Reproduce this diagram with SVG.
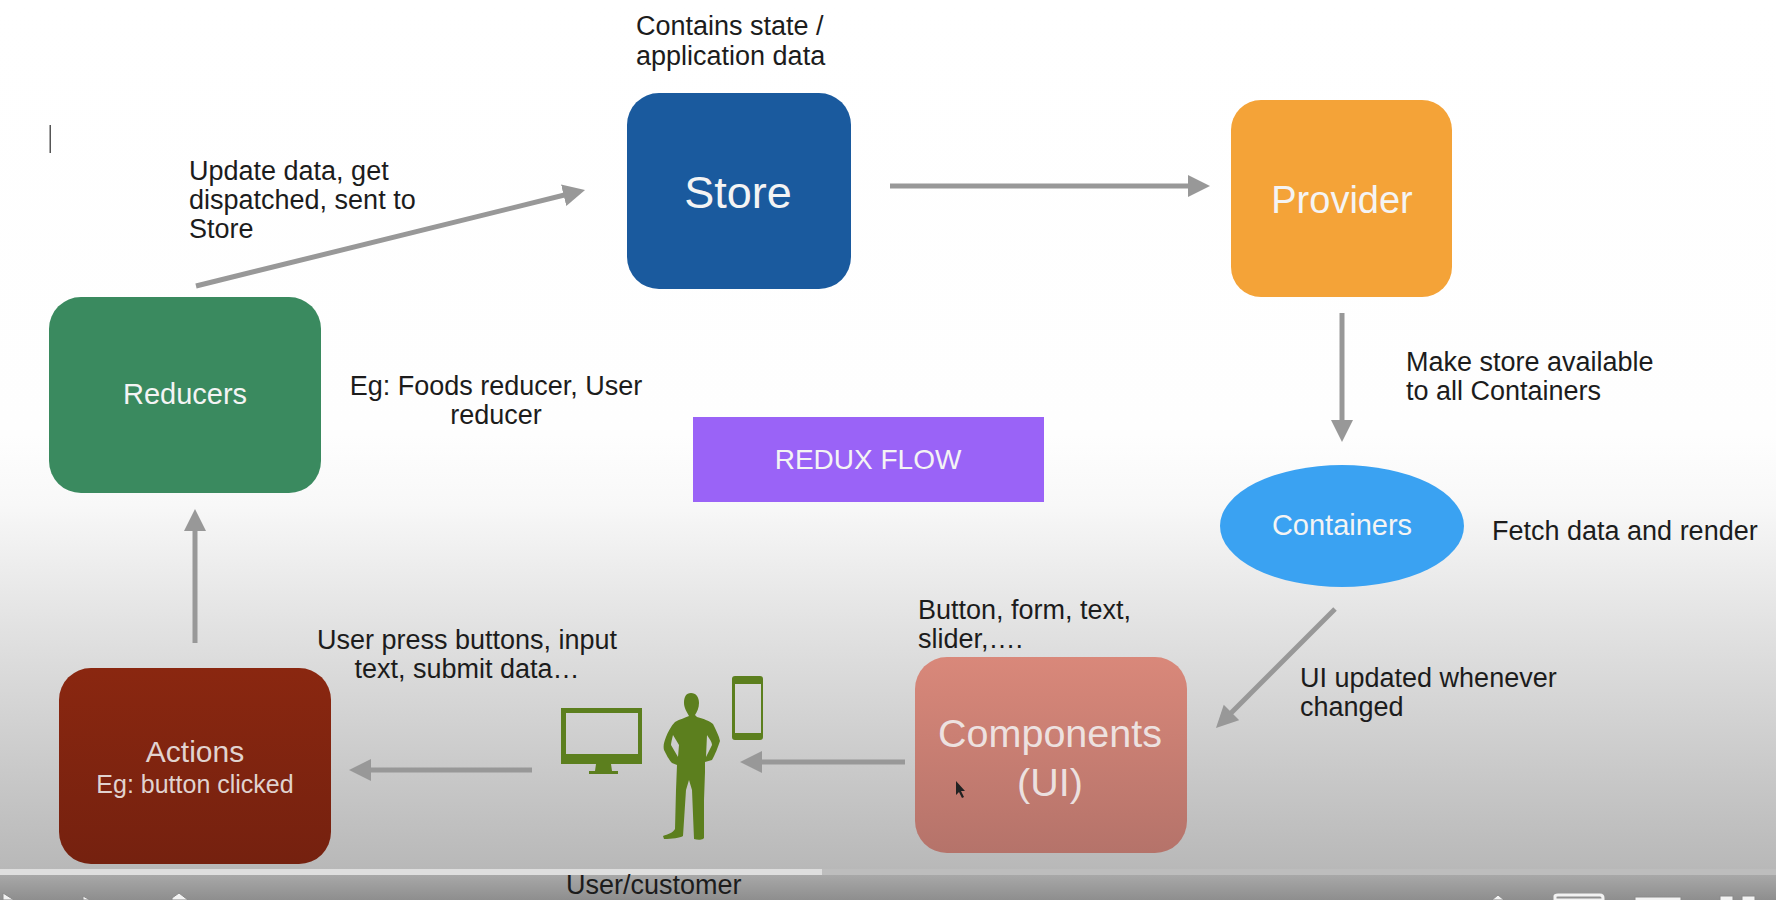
<svg xmlns="http://www.w3.org/2000/svg" width="1776" height="900" viewBox="0 0 1776 900">
<style>
.t{font-family:"Liberation Sans",Arial,sans-serif;font-size:27px;fill:#1c1c1c}
.n{font-family:"Liberation Sans",Arial,sans-serif;fill:#f4f4f4;text-anchor:middle}
.c{text-anchor:middle}
.a{stroke:#989898;stroke-width:5;fill:none;marker-end:url(#h)}
.g{fill:#5c7f1e}
.i{fill:#f2f2f2;stroke:#8a8a8a;stroke-width:1}
</style>
<defs>
<linearGradient id="bg" x1="0" y1="0" x2="0" y2="1"><stop offset="0" stop-color="#ffffff"/><stop offset="0.5" stop-color="#fefefe"/><stop offset="0.58" stop-color="#f8f8f8"/><stop offset="0.72" stop-color="#e2e2e2"/><stop offset="1" stop-color="#b8b8b8"/></linearGradient>
<linearGradient id="bar" x1="0" y1="0" x2="0" y2="1"><stop offset="0" stop-color="#a8a8a8"/><stop offset="1" stop-color="#8e8e8e"/></linearGradient>
<linearGradient id="comp" x1="0" y1="0" x2="0" y2="1"><stop offset="0" stop-color="#d9887a"/><stop offset="1" stop-color="#b5736a"/></linearGradient>
<linearGradient id="act" x1="0" y1="0" x2="0" y2="1"><stop offset="0" stop-color="#8a2710"/><stop offset="1" stop-color="#75210f"/></linearGradient>
<marker id="h" markerUnits="userSpaceOnUse" markerWidth="24" markerHeight="24" refX="6" refY="11" orient="auto"><path d="M0 0L22 11L0 22Z" fill="#989898"/></marker>
</defs>
<rect id="background" width="1776" height="870" fill="url(#bg)"/>
<rect x="0" y="875" width="1776" height="25" fill="url(#bar)"/>
<rect x="0" y="869" width="1776" height="6" fill="#bdbdbd"/>
<rect x="0" y="869" width="822" height="6" fill="#dedede"/>
<rect x="49.500" y="125" width="1.500" height="28" fill="#555"/>

<g id="connectors">
<line class="a" x1="196" y1="286" x2="569.500" y2="193.800"/>
<line class="a" x1="890" y1="186" x2="1194" y2="186"/>
<line class="a" x1="1342" y1="313" x2="1342" y2="426"/>
<line class="a" x1="1335" y1="609" x2="1227.300" y2="716.700"/>
<line class="a" x1="905" y1="762" x2="756" y2="762"/>
<line class="a" x1="532" y1="770" x2="365" y2="770"/>
<line class="a" x1="195" y1="643" x2="195" y2="525"/>
</g>

<g id="store"><rect x="627" y="93" width="224" height="196" rx="32" fill="#1a5a9e"/><text class="n" x="738" y="208" font-size="45">Store</text></g>
<g id="provider"><rect x="1231" y="100" width="221" height="197" rx="30" fill="#f4a338"/><text class="n" x="1342" y="213" font-size="38">Provider</text></g>
<g id="reducers"><rect x="49" y="297" width="272" height="196" rx="32" fill="#3a8a5f"/><text class="n" x="185" y="404" font-size="29">Reducers</text></g>
<g id="redux-flow"><rect x="693" y="417" width="351" height="85" fill="#9a63f7"/><text class="n" x="868" y="469" font-size="28">REDUX FLOW</text></g>
<g id="containers"><ellipse cx="1342" cy="526" rx="122" ry="61" fill="#3aa2f2"/><text class="n" x="1342" y="535" font-size="29">Containers</text></g>
<g id="components"><rect x="915" y="657" width="272" height="196" rx="32" fill="url(#comp)"/><text class="n" x="1050" y="747" font-size="39.500" fill-opacity=".85">Components</text><text class="n" x="1050" y="796" font-size="39.500" fill-opacity=".85">(UI)</text><path d="M956 781l0 14l3-3l3 6l2-1l-3-6l4 0Z" fill="#222"/></g>
<g id="actions"><rect x="59" y="668" width="272" height="196" rx="32" fill="url(#act)"/><text class="n" x="195" y="762" font-size="30" fill-opacity=".85">Actions</text><text class="n" x="195" y="793" font-size="25" fill-opacity=".85">Eg: button clicked</text></g>

<g id="user">
<path class="g" fill-rule="evenodd" d="M561 708H642V764H611L612 771H618V774H589V771H595L596 764H561ZM566 713V754H638V713Z"/>
<path class="g" fill-rule="evenodd" d="M735 676H760Q763 676 763 679V737Q763 740 760 740H735Q732 740 732 737V679Q732 676 735 676ZM735 684V733H761V684Z"/>
<path class="g" d="M691 693C696 693 699 697 699 703C699 708 697 712 695 715L697 717C704 719 710 721 713 724C716 730 719 736 720 741C718 747 715 755 712 760L705 762L705 772L704 800L704 838L703 839C701 840 697 840 694 839L692 790L689 780L686 790L683 836C680 838 672 839 664 839L663 836C668 834 673 833 675 829L676 790L677 765L672 763C669 760 666 754 664 750C663 746 664 742 666 737C668 732 671 726 675 722C680 719 685 718 689 716C687 712 684 708 684 703C684 697 686 693 691 693ZM673 735C672 739 671 743 671 745L678 757L679 745ZM707 735L706 757L712 745C712 742 709 738 707 735Z"/>
</g>

<g id="labels">
<text class="t" x="636" y="35">Contains state /</text>
<text class="t" x="636" y="65">application data</text>
<text class="t" x="189" y="180">Update data, get</text>
<text class="t" x="189" y="209">dispatched, sent to</text>
<text class="t" x="189" y="238">Store</text>
<text class="t c" x="496" y="395">Eg: Foods reducer, User</text>
<text class="t c" x="496" y="424">reducer</text>
<text class="t" x="1406" y="371">Make store available</text>
<text class="t" x="1406" y="400">to all Containers</text>
<text class="t" x="1492" y="540">Fetch data and render</text>
<text class="t" x="1300" y="687">UI updated whenever</text>
<text class="t" x="1300" y="716">changed</text>
<text class="t" x="918" y="619">Button, form, text,</text>
<text class="t" x="918" y="648">slider,….</text>
<text class="t c" x="467" y="649">User press buttons, input</text>
<text class="t c" x="467" y="678">text, submit data…</text>
<text class="t" x="566" y="894">User/customer</text>
</g>

<g id="controls">
<path class="i" d="M3 893L14 900H3Z"/>
<path class="i" d="M83 896L90 900H83Z"/>
<path class="i" d="M172 898L179 893L188 900H172Z"/>
<path class="i" d="M1492 900L1498 895L1504 900Z"/>
<path d="M1555 896Q1555 895 1558 895H1600Q1603 895 1603 898V900H1555Z" fill="none" stroke="#f2f2f2" stroke-width="3"/>
<rect class="i" x="1635" y="897" width="46" height="4"/>
<rect class="i" x="1720" y="896" width="13" height="5"/>
<rect class="i" x="1742" y="896" width="13" height="5"/>
</g>
</svg>
